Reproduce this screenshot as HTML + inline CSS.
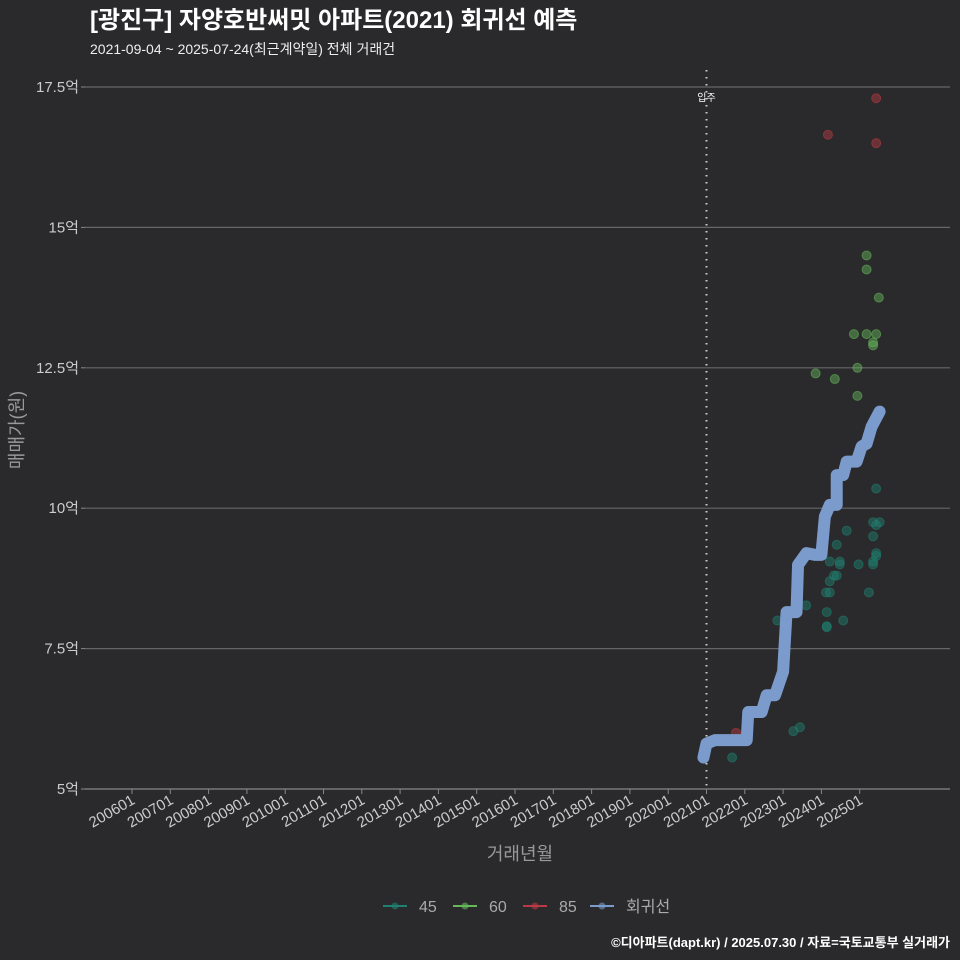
<!DOCTYPE html>
<html><head><meta charset="utf-8"><style>
body{margin:0;background:#2a2a2c;overflow:hidden;}
svg{display:block;}
svg text{font-family:"Liberation Sans","Noto Sans CJK KR",sans-serif;}
</style></head><body>
<svg id="c" width="960" height="960" xmlns="http://www.w3.org/2000/svg">
<rect width="960" height="960" fill="#2a2a2c"/>
<text x="90" y="28" fill="#fff" font-size="24" font-weight="bold">[광진구] 자양호반써밋 아파트(2021) 회귀선 예측</text>
<text x="90" y="54" fill="#eee" font-size="14">2021-09-04 ~ 2025-07-24(최근계약일) 전체 거래건</text>
<g id="grid"></g><g id="marks"></g>
<text transform="translate(23,430) rotate(-90)" text-anchor="middle" fill="#999" font-size="18">매매가(원)</text>
<text x="520" y="860" text-anchor="middle" fill="#999" font-size="18">거래년월</text>
<g id="legend"></g>
<text x="950" y="947" text-anchor="end" fill="#fff" font-size="13" font-weight="bold">©디아파트(dapt.kr) / 2025.07.30 / 자료=국토교통부 실거래가</text>
</svg>
<script>
const yTicks=[5,7.5,10,12.5,15,17.5];
const yTickLabels=["5억","7.5억","10억","12.5억","15억","17.5억"];
const xTicks=[2006,2007,2008,2009,2010,2011,2012,2013,2014,2015,2016,2017,2018,2019,2020,2021,2022,2023,2024,2025];
const xTickLabels=["200601","200701","200801","200901","201001","201101","201201","201301","201401","201501","201601","201701","201801","201901","202001","202101","202201","202301","202401","202501"];
const moveIn=2021.0;
const s45x=[2025.43,2025.35,2025.52,2025.43,2024.66,2025.35,2024.40,2025.43,2025.43,2024.22,2024.48,2024.48,2024.97,2025.35,2025.35,2024.33,2024.40,2024.22,2024.12,2024.22,2025.24,2023.60,2022.85,2024.57,2024.14,2024.14,2024.14,2023.27,2023.44,2021.67];
const s45y=[10.35,9.75,9.75,9.7,9.6,9.5,9.35,9.2,9.15,9.05,9.05,9.0,9.0,9.05,9.0,8.8,8.8,8.7,8.5,8.5,8.5,8.27,8.0,8.0,8.15,7.9,7.88,6.03,6.1,5.56];
const s60x=[2025.18,2025.18,2025.5,2024.85,2025.18,2025.43,2025.35,2025.35,2024.94,2023.85,2024.35,2024.94];
const s60y=[14.5,14.25,13.75,13.1,13.1,13.1,12.95,12.9,12.5,12.4,12.3,12.0];
const s85x=[2024.17,2025.43,2025.43,2021.77];
const s85y=[16.65,17.3,16.5,6.0];
const regX=[2020.92,2021.0,2021.22,2022.05,2022.09,2022.44,2022.57,2022.79,2023.0,2023.09,2023.35,2023.39,2023.61,2023.83,2024.0,2024.09,2024.22,2024.4,2024.4,2024.57,2024.66,2024.92,2025.05,2025.18,2025.31,2025.52];
const regY=[5.56,5.81,5.87,5.87,6.37,6.37,6.67,6.67,7.09,8.15,8.15,8.99,9.2,9.17,9.17,9.85,10.06,10.06,10.59,10.59,10.83,10.83,11.1,11.15,11.45,11.72];
const X=v=>132+(v-2006)*38.3, Y=v=>789-(v-5)*56.16;
const NS="http://www.w3.org/2000/svg";
function mk(t,a,p){const e=document.createElementNS(NS,t);for(const k in a)e.setAttribute(k,a[k]);p.appendChild(e);return e;}
const g=document.getElementById('grid'),m=document.getElementById('marks'),lg=document.getElementById('legend');
yTicks.forEach((v,i)=>{
 const l=mk('line',{x1:85,x2:950,y1:Y(v),y2:Y(v),stroke:i==0?'#888':'#666','stroke-width':1.2},g);
 
 
 const tk=mk('line',{x1:81,x2:85,y1:Y(v),y2:Y(v),stroke:'#888'},g);
 
 
 const t=mk('text',{x:79,y:Y(v)+5,'text-anchor':'end',fill:'#ccc','font-size':15},g);
 t.textContent=yTickLabels[i];
 
 
});
xTicks.forEach((v,i)=>{
 const tk=mk('line',{x1:X(v),x2:X(v),y1:789,y2:794,stroke:'#888'},g);
 
 
 const t=mk('text',{x:X(v)+4,y:803,'text-anchor':'end',fill:'#ccc','font-size':15,transform:`rotate(-30 ${X(v)+4} 803)`},g);
 t.textContent=xTickLabels[i];
 
 
});
const vl=mk('line',{x1:X(moveIn),x2:X(moveIn),y1:70,y2:789,stroke:'#ccc','stroke-width':2,'stroke-dasharray':'1.5 5.5'},g);


const vt=mk('text',{x:X(moveIn),y:101,'text-anchor':'middle',fill:'#fff','font-size':10},g);
vt.textContent='입주';


function pts(xs,ys,col,name){xs.forEach((x,i)=>{const c=mk('circle',{cx:X(x),cy:Y(ys[i]),r:4.5,fill:col,'fill-opacity':0.45,stroke:col,'stroke-opacity':0.55},m);
 
 });}
pts(s45x,s45y,'#1f8070','point-45');
pts(s60x,s60y,'#66b85a','point-60');
pts(s85x,s85y,'#b83a44','point-85');
const path=mk('polyline',{points:regX.map((x,i)=>X(x)+','+Y(regY[i])).join(' '),fill:'none',stroke:'#7b9bcc','stroke-width':12,'stroke-linejoin':'round','stroke-linecap':'round'},m);


const leg=[['45','#1f8070'],['60','#66b85a'],['85','#b83a44'],['회귀선','#7b9bcc']];
const lx=[383,453,523,590];
leg.forEach((d,i)=>{
 const l=mk('line',{x1:lx[i],x2:lx[i]+24,y1:906,y2:906,stroke:d[1],'stroke-width':2},lg);
 
 
 const c=mk('circle',{cx:lx[i]+12,cy:906,r:3.5,fill:d[1],'fill-opacity':0.6},lg);
 
 
 const t=mk('text',{x:lx[i]+36,y:912,fill:'#aaa','font-size':16},lg);
 t.textContent=d[0];
 
 
});
</script>
</body></html>
